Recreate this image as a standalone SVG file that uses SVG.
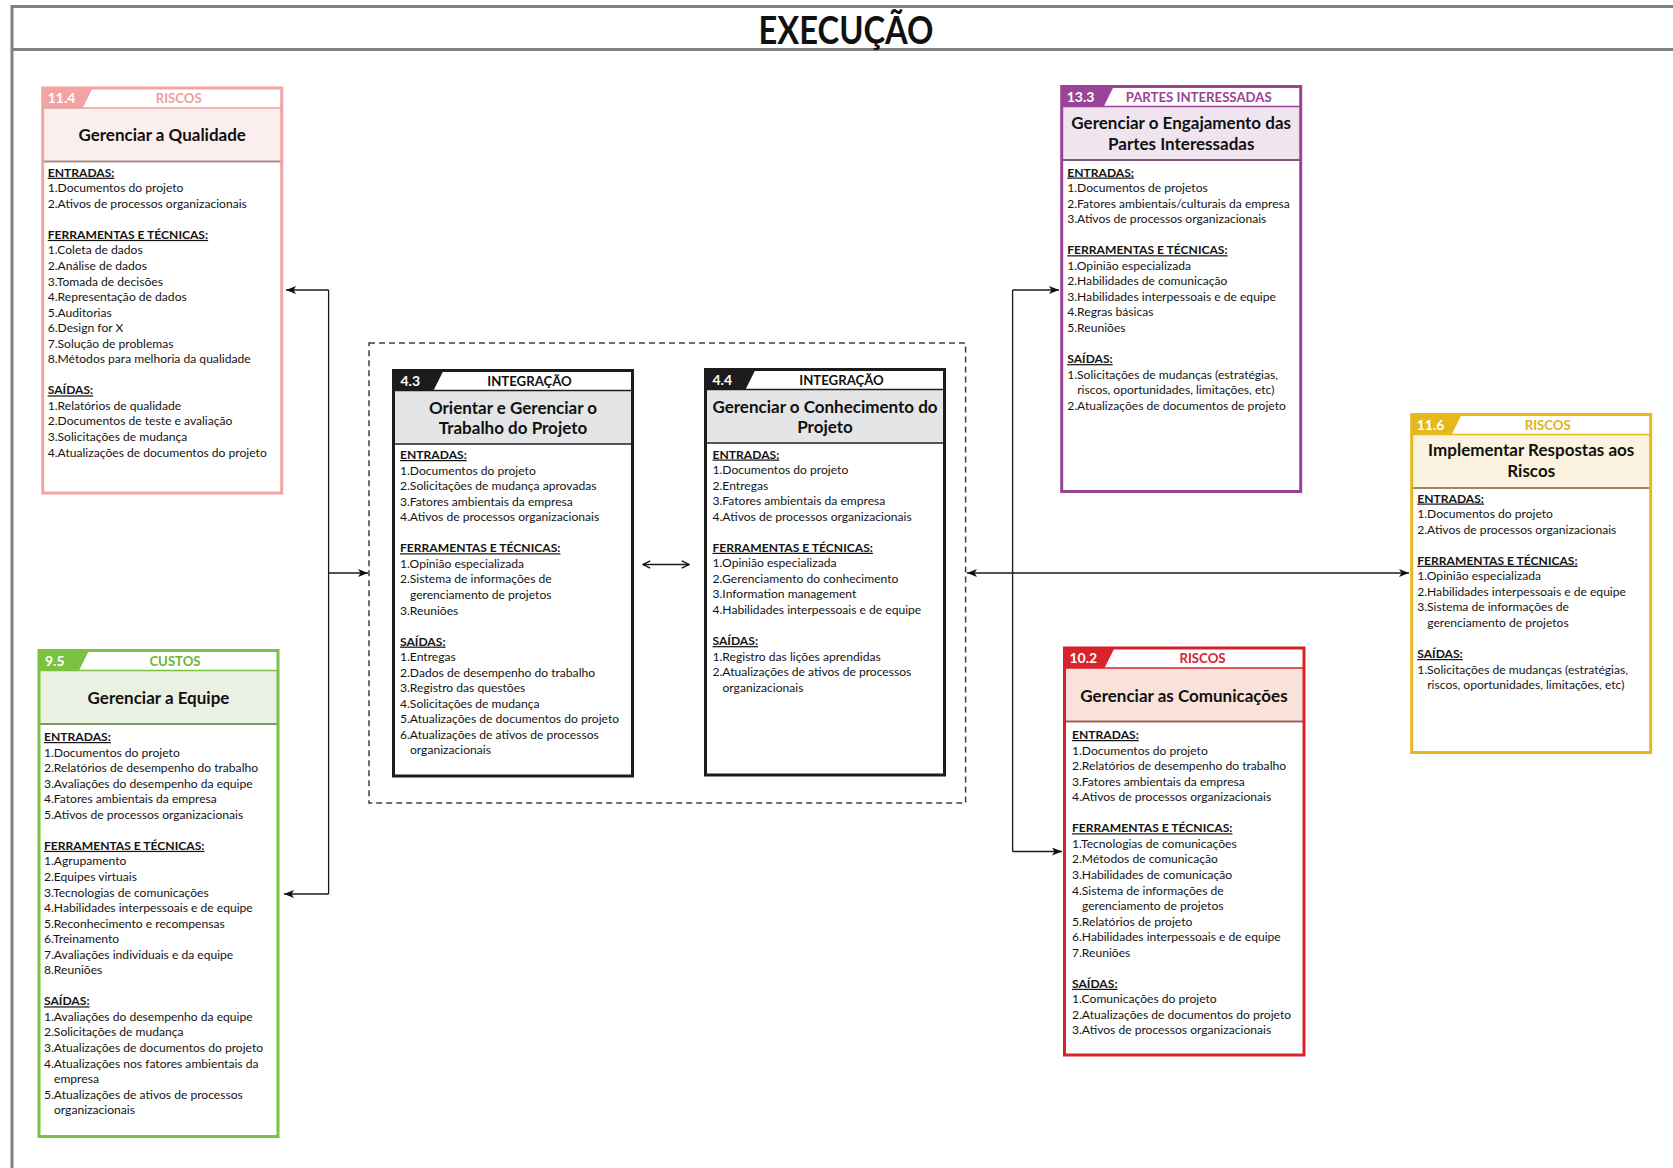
<svg xmlns="http://www.w3.org/2000/svg" width="1673" height="1168" viewBox="0 0 1673 1168">
<style>
  .body{fill:#fff}
  .frame{fill:none;stroke-width:3}
  .t{font-family:Lato,'Liberation Sans',sans-serif;font-size:12.1px;fill:#141414}
  .h{font-weight:700;text-decoration:underline}
  .ttl{font-family:Lato,'Liberation Sans',sans-serif;font-size:17px;font-weight:700;text-anchor:middle;fill:#111}
  .num{font-family:Lato,'Liberation Sans',sans-serif;font-size:14px;font-weight:700;fill:#fff}
  .lab{font-family:Lato,'Liberation Sans',sans-serif;font-size:13.2px;font-weight:700;text-anchor:middle}
  .conn{fill:none;stroke:#1a1a1a;stroke-width:1.3}
</style>
<defs>
  <marker id="ah" viewBox="0 0 10 8" refX="10" refY="4" markerWidth="10" markerHeight="8" markerUnits="userSpaceOnUse" orient="auto-start-reverse">
    <path d="M0,0 L10,4 L0,8 L2.5,4 Z" fill="#111"/>
  </marker>
  <marker id="av" viewBox="0 0 10 10" refX="9" refY="5" markerWidth="9" markerHeight="9" markerUnits="userSpaceOnUse" orient="auto-start-reverse">
    <path d="M1,1 L9,5 L1,9" fill="none" stroke="#111" stroke-width="1.4"/>
  </marker>
</defs>
<rect width="1673" height="1168" fill="#fff"/>

<!-- page frame and title -->
<g id="header">
  <path d="M12,6.5 H1673 M12,49.5 H1673 M12,5 V1168" fill="none" stroke="#808080" stroke-width="3"/>
  <text x="846" y="43.5" font-family="Lato,'Liberation Sans',sans-serif" font-size="38" font-weight="700" text-anchor="middle" textLength="175" lengthAdjust="spacingAndGlyphs" fill="#111">EXECUÇÃO</text>
</g>

<!-- connectors -->
<g id="connectors">
  <rect x="369" y="343" width="596.6" height="460" fill="none" stroke="#404040" stroke-width="1.5" stroke-dasharray="6,4"/>
  <path class="conn" d="M328.6,290 V894"/>
  <path class="conn" d="M328.6,290 H286" marker-end="url(#ah)"/>
  <path class="conn" d="M328.6,894 H284" marker-end="url(#ah)"/>
  <path class="conn" d="M328.6,573 H368" marker-end="url(#ah)"/>
  <path class="conn" d="M643,564.5 H689" marker-start="url(#av)" marker-end="url(#av)"/>
  <path class="conn" d="M967,573 H1409" marker-start="url(#ah)" marker-end="url(#ah)"/>
  <path class="conn" d="M1012.6,290 V851.5"/>
  <path class="conn" d="M1012.6,290 H1059" marker-end="url(#ah)"/>
  <path class="conn" d="M1012.6,851.5 H1062" marker-end="url(#ah)"/>
</g>

<!-- 11.4 Gerenciar a Qualidade -->
<g id="n11-4" transform="translate(42.7,88)">
  <rect class="body" width="239" height="405"/>
  <rect y="20" width="239" height="53.5" fill="#FBEEEE"/>
  <polygon points="0,0 50,0 40,20 0,20" fill="#F3A3A3"/>
  <path d="M0,20 H239" stroke="#E3A0A0" stroke-width="1.5"/>
  <path d="M0,73.5 H239" stroke="#A88C8C" stroke-width="2"/>
  <rect class="frame" width="239" height="405" stroke="#F3A3A3"/>
  <text class="num" x="5" y="15">11.4</text>
  <text class="lab" x="136" y="15" fill="#F29C9C">RISCOS</text>
  <text class="ttl" x="119.5" y="52.5">Gerenciar a Qualidade</text>
  <g class="t" transform="translate(5,88.7)">
    <text class="h" y="0">ENTRADAS:</text>
    <text y="15.55">1.Documentos do projeto</text>
    <text y="31.1">2.Ativos de processos organizacionais</text>
    <text class="h" y="62.2">FERRAMENTAS E TÉCNICAS:</text>
    <text y="77.75">1.Coleta de dados</text>
    <text y="93.3">2.Análise de dados</text>
    <text y="108.85">3.Tomada de decisões</text>
    <text y="124.4">4.Representação de dados</text>
    <text y="139.95">5.Auditorias</text>
    <text y="155.5">6.Design for X</text>
    <text y="171.05">7.Solução de problemas</text>
    <text y="186.6">8.Métodos para melhoria da qualidade</text>
    <text class="h" y="217.7">SAÍDAS:</text>
    <text y="233.25">1.Relatórios de qualidade</text>
    <text y="248.8">2.Documentos de teste e avaliação</text>
    <text y="264.35">3.Solicitações de mudança</text>
    <text y="279.9">4.Atualizações de documentos do projeto</text>
  </g>
</g>

<!-- 9.5 Gerenciar a Equipe -->
<g id="n9-5" transform="translate(39,650.5)">
  <rect class="body" width="239" height="486"/>
  <rect y="20" width="239" height="53.5" fill="#EBF1E2"/>
  <polygon points="0,0 50,0 40,20 0,20" fill="#7CC242"/>
  <path d="M0,20 H239" stroke="#7CC242" stroke-width="1.5"/>
  <path d="M0,73.5 H239" stroke="#7E9A62" stroke-width="2"/>
  <rect class="frame" width="239" height="486" stroke="#7CC242"/>
  <text class="num" x="6" y="15">9.5</text>
  <text class="lab" x="136" y="15" fill="#6DB535">CUSTOS</text>
  <text class="ttl" x="119.5" y="53">Gerenciar a Equipe</text>
  <g class="t" transform="translate(5,90.5)">
    <text class="h" y="0">ENTRADAS:</text>
    <text y="15.55">1.Documentos do projeto</text>
    <text y="31.1">2.Relatórios de desempenho do trabalho</text>
    <text y="46.65">3.Avaliações do desempenho da equipe</text>
    <text y="62.2">4.Fatores ambientais da empresa</text>
    <text y="77.75">5.Ativos de processos organizacionais</text>
    <text class="h" y="108.85">FERRAMENTAS E TÉCNICAS:</text>
    <text y="124.4">1.Agrupamento</text>
    <text y="139.95">2.Equipes virtuais</text>
    <text y="155.5">3.Tecnologias de comunicações</text>
    <text y="171.05">4.Habilidades interpessoais e de equipe</text>
    <text y="186.6">5.Reconhecimento e recompensas</text>
    <text y="202.15">6.Treinamento</text>
    <text y="217.7">7.Avaliações individuais e da equipe</text>
    <text y="233.25">8.Reuniões</text>
    <text class="h" y="264.35">SAÍDAS:</text>
    <text y="279.9">1.Avaliações do desempenho da equipe</text>
    <text y="295.45">2.Solicitações de mudança</text>
    <text y="311">3.Atualizações de documentos do projeto</text>
    <text y="326.55">4.Atualizações nos fatores ambientais da</text>
    <text x="10" y="342.1">empresa</text>
    <text y="357.65">5.Atualizações de ativos de processos</text>
    <text x="10" y="373.2">organizacionais</text>
  </g>
</g>

<!-- 4.3 Orientar e Gerenciar o Trabalho do Projeto -->
<g id="n4-3" transform="translate(393.5,370.5)">
  <rect class="body" width="239" height="405.5"/>
  <rect y="20" width="239" height="53.5" fill="#E4E5E6"/>
  <polygon points="0,0 50,0 40,20 0,20" fill="#1c1c1c"/>
  <path d="M0,20 H239" stroke="#1c1c1c" stroke-width="1.5"/>
  <path d="M0,73.5 H239" stroke="#555" stroke-width="2"/>
  <rect class="frame" width="239" height="405.5" stroke="#1c1c1c"/>
  <text class="num" x="7" y="15">4.3</text>
  <text class="lab" x="136" y="15" fill="#111">INTEGRAÇÃO</text>
  <text class="ttl" x="119.5" y="43">Orientar e Gerenciar o</text>
  <text class="ttl" x="119.5" y="63.5">Trabalho do Projeto</text>
  <g class="t" transform="translate(6.5,88.5)">
    <text class="h" y="0">ENTRADAS:</text>
    <text y="15.55">1.Documentos do projeto</text>
    <text y="31.1">2.Solicitações de mudança aprovadas</text>
    <text y="46.65">3.Fatores ambientais da empresa</text>
    <text y="62.2">4.Ativos de processos organizacionais</text>
    <text class="h" y="93.3">FERRAMENTAS E TÉCNICAS:</text>
    <text y="108.85">1.Opinião especializada</text>
    <text y="124.4">2.Sistema de informações de</text>
    <text x="10" y="139.95">gerenciamento de projetos</text>
    <text y="155.5">3.Reuniões</text>
    <text class="h" y="186.6">SAÍDAS:</text>
    <text y="202.15">1.Entregas</text>
    <text y="217.7">2.Dados de desempenho do trabalho</text>
    <text y="233.25">3.Registro das questões</text>
    <text y="248.8">4.Solicitações de mudança</text>
    <text y="264.35">5.Atualizações de documentos do projeto</text>
    <text y="279.9">6.Atualizações de ativos de processos</text>
    <text x="10" y="295.45">organizacionais</text>
  </g>
</g>

<!-- 4.4 Gerenciar o Conhecimento do Projeto -->
<g id="n4-4" transform="translate(705.5,369.5)">
  <rect class="body" width="239" height="405.5"/>
  <rect y="20" width="239" height="53.5" fill="#E4E5E6"/>
  <polygon points="0,0 50,0 40,20 0,20" fill="#1c1c1c"/>
  <path d="M0,20 H239" stroke="#1c1c1c" stroke-width="1.5"/>
  <path d="M0,73.5 H239" stroke="#555" stroke-width="2"/>
  <rect class="frame" width="239" height="405.5" stroke="#1c1c1c"/>
  <text class="num" x="7" y="15">4.4</text>
  <text class="lab" x="136" y="15" fill="#111">INTEGRAÇÃO</text>
  <text class="ttl" x="119.5" y="43">Gerenciar o Conhecimento do</text>
  <text class="ttl" x="119.5" y="63.5">Projeto</text>
  <g class="t" transform="translate(7,89)">
    <text class="h" y="0">ENTRADAS:</text>
    <text y="15.55">1.Documentos do projeto</text>
    <text y="31.1">2.Entregas</text>
    <text y="46.65">3.Fatores ambientais da empresa</text>
    <text y="62.2">4.Ativos de processos organizacionais</text>
    <text class="h" y="93.3">FERRAMENTAS E TÉCNICAS:</text>
    <text y="108.85">1.Opinião especializada</text>
    <text y="124.4">2.Gerenciamento do conhecimento</text>
    <text y="139.95">3.Information management</text>
    <text y="155.5">4.Habilidades interpessoais e de equipe</text>
    <text class="h" y="186.6">SAÍDAS:</text>
    <text y="202.15">1.Registro das lições aprendidas</text>
    <text y="217.7">2.Atualizações de ativos de processos</text>
    <text x="10" y="233.25">organizacionais</text>
  </g>
</g>

<!-- 13.3 Gerenciar o Engajamento das Partes Interessadas -->
<g id="n13-3" transform="translate(1061.7,86.5)">
  <rect class="body" width="239" height="405"/>
  <rect y="20" width="239" height="53.5" fill="#F0E4EF"/>
  <polygon points="0,0 52,0 42,20 0,20" fill="#9A4497"/>
  <path d="M0,20 H239" stroke="#9A4497" stroke-width="1.5"/>
  <path d="M0,73.5 H239" stroke="#7A5A78" stroke-width="2"/>
  <rect class="frame" width="239" height="405" stroke="#9A4497"/>
  <text class="num" x="5" y="15">13.3</text>
  <text class="lab" x="137" y="15" fill="#9A4497">PARTES INTERESSADAS</text>
  <text class="ttl" x="119.5" y="42.5">Gerenciar o Engajamento das</text>
  <text class="ttl" x="119.5" y="63.5">Partes Interessadas</text>
  <g class="t" transform="translate(5.5,90)">
    <text class="h" y="0">ENTRADAS:</text>
    <text y="15.55">1.Documentos de projetos</text>
    <text y="31.1">2.Fatores ambientais/culturais da empresa</text>
    <text y="46.65">3.Ativos de processos organizacionais</text>
    <text class="h" y="77.75">FERRAMENTAS E TÉCNICAS:</text>
    <text y="93.3">1.Opinião especializada</text>
    <text y="108.85">2.Habilidades de comunicação</text>
    <text y="124.4">3.Habilidades interpessoais e de equipe</text>
    <text y="139.95">4.Regras básicas</text>
    <text y="155.5">5.Reuniões</text>
    <text class="h" y="186.6">SAÍDAS:</text>
    <text y="202.15">1.Solicitações de mudanças (estratégias,</text>
    <text x="10" y="217.7">riscos, oportunidades, limitações, etc)</text>
    <text y="233.25">2.Atualizações de documentos de projeto</text>
  </g>
</g>

<!-- 11.6 Implementar Respostas aos Riscos -->
<g id="n11-6" transform="translate(1411.7,414.5)">
  <rect class="body" width="239" height="338"/>
  <rect y="20" width="239" height="53.5" fill="#FBF3DF"/>
  <polygon points="0,0 50,0 40,20 0,20" fill="#E5B81C"/>
  <path d="M0,20 H239" stroke="#E5B81C" stroke-width="1.5"/>
  <path d="M0,73.5 H239" stroke="#9C8A5A" stroke-width="2"/>
  <rect class="frame" width="239" height="338" stroke="#E5B81C"/>
  <text class="num" x="5" y="15">11.6</text>
  <text class="lab" x="136" y="15" fill="#E2B21A">RISCOS</text>
  <text class="ttl" x="119.5" y="41.5">Implementar Respostas aos</text>
  <text class="ttl" x="119.5" y="62.5">Riscos</text>
  <g class="t" transform="translate(5.5,88)">
    <text class="h" y="0">ENTRADAS:</text>
    <text y="15.55">1.Documentos do projeto</text>
    <text y="31.1">2.Ativos de processos organizacionais</text>
    <text class="h" y="62.2">FERRAMENTAS E TÉCNICAS:</text>
    <text y="77.75">1.Opinião especializada</text>
    <text y="93.3">2.Habilidades interpessoais e de equipe</text>
    <text y="108.85">3.Sistema de informações de</text>
    <text x="10" y="124.4">gerenciamento de projetos</text>
    <text class="h" y="155.5">SAÍDAS:</text>
    <text y="171.05">1.Solicitações de mudanças (estratégias,</text>
    <text x="10" y="186.6">riscos, oportunidades, limitações, etc)</text>
  </g>
</g>

<!-- 10.2 Gerenciar as Comunicações -->
<g id="n10-2" transform="translate(1064.5,648)">
  <rect class="body" width="239.5" height="407"/>
  <rect y="20" width="239.5" height="53.5" fill="#F8E2DA"/>
  <polygon points="0,0 50,0 40,20 0,20" fill="#D8232A"/>
  <path d="M0,20 H239.5" stroke="#D8232A" stroke-width="1.5"/>
  <path d="M0,73.5 H239.5" stroke="#A0605A" stroke-width="2"/>
  <rect class="frame" width="239.5" height="407" stroke="#D8232A"/>
  <text class="num" x="5" y="15">10.2</text>
  <text class="lab" x="138" y="15" fill="#D8232A">RISCOS</text>
  <text class="ttl" x="119.5" y="53.5">Gerenciar as Comunicações</text>
  <g class="t" transform="translate(7.5,91)">
    <text class="h" y="0">ENTRADAS:</text>
    <text y="15.55">1.Documentos do projeto</text>
    <text y="31.1">2.Relatórios de desempenho do trabalho</text>
    <text y="46.65">3.Fatores ambientais da empresa</text>
    <text y="62.2">4.Ativos de processos organizacionais</text>
    <text class="h" y="93.3">FERRAMENTAS E TÉCNICAS:</text>
    <text y="108.85">1.Tecnologias de comunicações</text>
    <text y="124.4">2.Métodos de comunicação</text>
    <text y="139.95">3.Habilidades de comunicação</text>
    <text y="155.5">4.Sistema de informações de</text>
    <text x="10" y="171.05">gerenciamento de projetos</text>
    <text y="186.6">5.Relatórios de projeto</text>
    <text y="202.15">6.Habilidades interpessoais e de equipe</text>
    <text y="217.7">7.Reuniões</text>
    <text class="h" y="248.8">SAÍDAS:</text>
    <text y="264.35">1.Comunicações do projeto</text>
    <text y="279.9">2.Atualizações de documentos do projeto</text>
    <text y="295.45">3.Ativos de processos organizacionais</text>
  </g>
</g>
</svg>
